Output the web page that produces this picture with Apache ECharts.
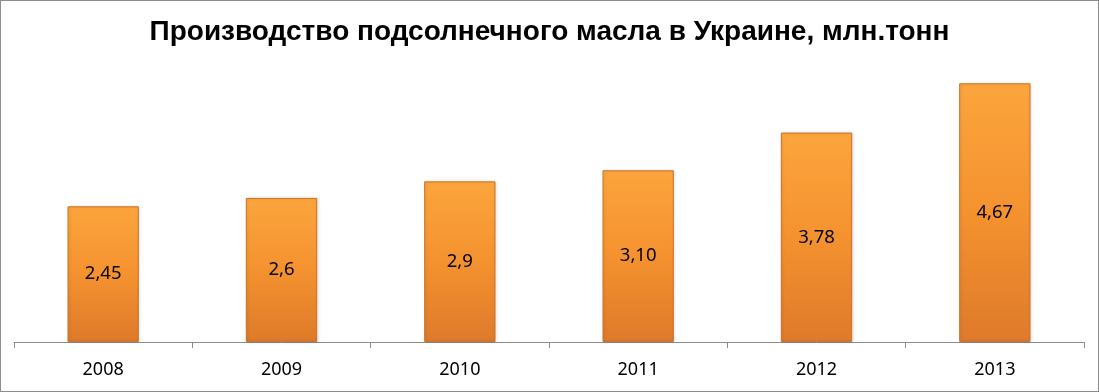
<!DOCTYPE html>
<html>
<head>
<meta charset="utf-8">
<script src="https://cdn.jsdelivr.net/npm/echarts@6/dist/echarts.min.js"></script>
<style>
html,body{margin:0;padding:0;background:#fff;}
#wrap{position:absolute;left:0;top:0;width:1097px;height:390px;border:1px solid #8c8c8c;}
#chart{width:1097px;height:390px;}
</style>
</head>
<body>
<div id="wrap"><div id="chart"></div></div>
<script>
const titleText = 'Производство подсолнечного масла в Украине, млн.тонн';
const categories = ['2008', '2009', '2010', '2011', '2012', '2013'];
const values = [2.45, 2.6, 2.9, 3.10, 3.78, 4.67];
const valueLabels = ['2,45', '2,6', '2,9', '3,10', '3,78', '4,67'];

const chart = echarts.init(document.getElementById('chart'), null, {renderer: 'canvas'});
chart.setOption({
  animation: false,
  backgroundColor: '#ffffff',
  title: {
    text: titleText,
    left: 'center',
    top: 12,
    textStyle: {fontFamily: 'Liberation Sans', fontWeight: 'bold', fontSize: 28, color: '#000'}
  },
  grid: {left: 13, right: 14, top: 64, bottom: 49, containLabel: false},
  xAxis: {
    type: 'category',
    data: categories,
    boundaryGap: true,
    axisLine: {show: true, lineStyle: {color: '#8c8c8c', width: 1}},
    axisTick: {show: true, alignWithLabel: false, length: 6, lineStyle: {color: '#8c8c8c'}},
    axisLabel: {fontFamily: 'Noto Sans', fontSize: 18, color: '#000', margin: 19}
  },
  yAxis: {
    type: 'value',
    min: 0, max: 5, interval: 0.5,
    show: false,
    splitLine: {show: false}
  },
  series: [{
    type: 'bar',
    data: values,
    barWidth: '40%',
    itemStyle: {
      color: new echarts.graphic.LinearGradient(0, 0, 0, 1, [
        {offset: 0, color: '#fca53d'},
        {offset: 0.5, color: '#f4922f'},
        {offset: 1, color: '#de7a2a'}
      ]),
      borderColor: '#c97428',
      borderWidth: 1,
      shadowColor: 'rgba(0,0,0,0.12)',
      shadowBlur: 3,
      shadowOffsetX: 1,
      shadowOffsetY: 0
    },
    label: {
      show: true,
      position: 'inside',
      fontFamily: 'Noto Sans',
      fontSize: 18.5,
      color: '#000',
      formatter: p => valueLabels[p.dataIndex]
    }
  }]
});
</script>
</body>
</html>
